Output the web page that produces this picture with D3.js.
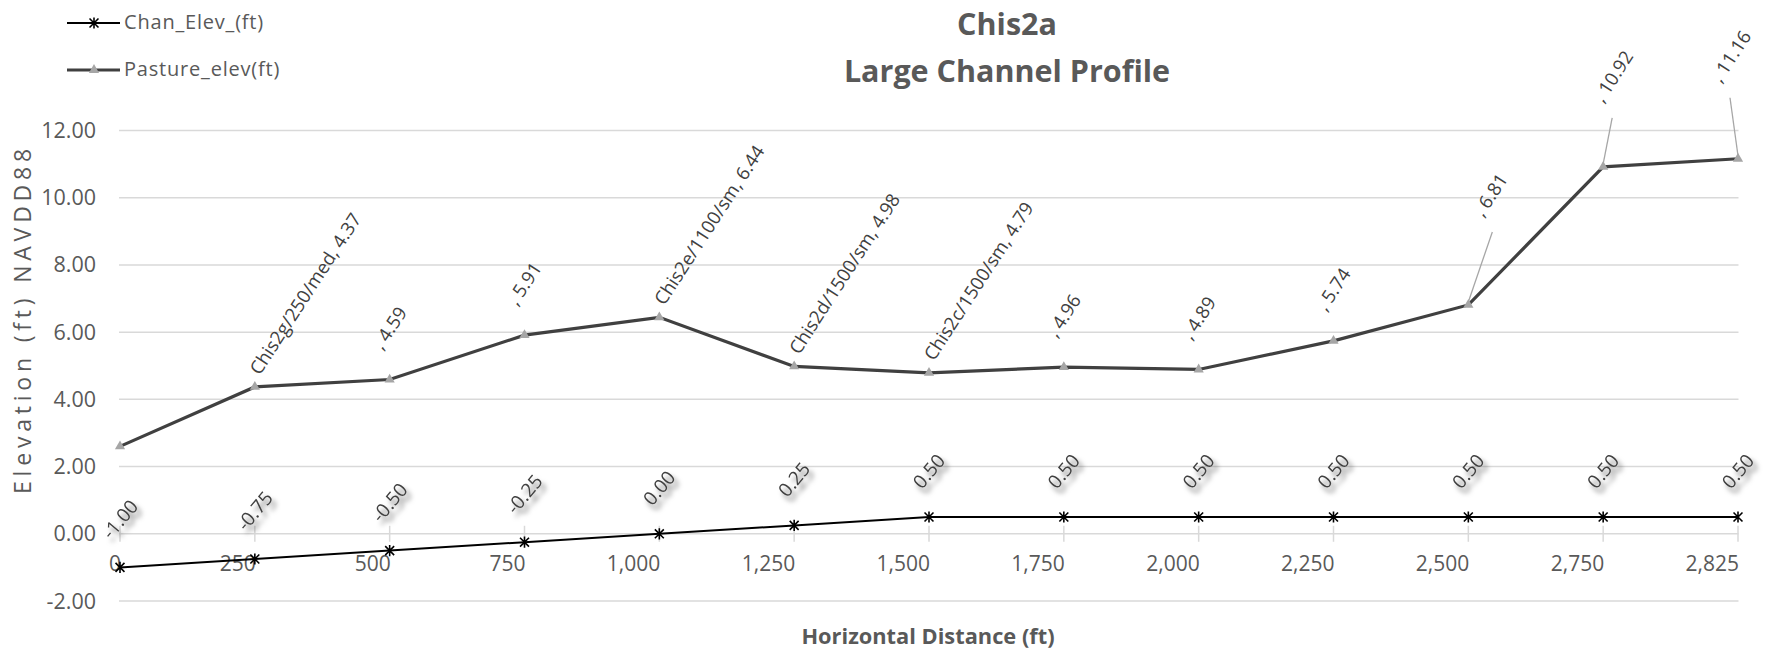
<!DOCTYPE html>
<html>
<head>
<meta charset="utf-8">
<script src="https://cdn.jsdelivr.net/npm/d3@7"></script>
<style>
  html, body { margin: 0; padding: 0; background: #fff; }
  svg { display: block; font-family: "Open Sans", Lato, sans-serif; }
</style>
</head>
<body>
<svg id="chart" width="1775" height="652"></svg>
<script>
// Profile data: horizontal distance (ft) and elevations (ft, NAVD88)
const distances   = [0, 250, 500, 750, 1000, 1250, 1500, 1750, 2000, 2250, 2500, 2750, 2825];
const chanElev    = [-1.00, -0.75, -0.50, -0.25, 0.00, 0.25, 0.50, 0.50, 0.50, 0.50, 0.50, 0.50, 0.50];
const pastureElev = [2.60, 4.37, 4.59, 5.91, 6.44, 4.98, 4.79, 4.96, 4.89, 5.74, 6.81, 10.92, 11.16];
// station names shown in the pasture labels (null = point not labelled)
const pastureNames = [null, "Chis2g/250/med", "", "", "Chis2e/1100/sm", "Chis2d/1500/sm",
                      "Chis2c/1500/sm", "", "", "", "", "", ""];
const yTicks = [-2, 0, 2, 4, 6, 8, 10, 12];
const seriesNames = ["Chan_Elev_(ft)", "Pasture_elev(ft)"];
const titleLines = ["Chis2a", "Large Channel Profile"];

// labels dragged away from their points (offset of label start, drawn with a leader)
const draggedLabels = new Map([[10, [15, -87]], [11, [0, -63]], [12, [-17, -75]]]);

const textGray = "#595959", labelGray = "#404040";
const svg = d3.select("#chart");

const loc = d3.formatLocale({ decimal: ".", thousands: ",", grouping: [3], currency: ["", ""], minus: "-" });
const fmt2 = loc.format(".2f");
const fmtComma = loc.format(",");

const x = d3.scalePoint().domain(d3.range(distances.length)).range([120, 1738]);
const y = d3.scaleLinear().domain([-2, 12]).range([601, 130.5]);

// shadow for the channel labels
const defs = svg.append("defs");
const f = defs.append("filter").attr("id", "lblShadow")
  .attr("x", "-60%").attr("y", "-60%").attr("width", "220%").attr("height", "220%");
f.append("feGaussianBlur").attr("in", "SourceAlpha").attr("stdDeviation", 2.8).attr("result", "blur");
f.append("feOffset").attr("in", "blur").attr("dx", 4).attr("dy", 5).attr("result", "off");
f.append("feFlood").attr("flood-color", "#000").attr("flood-opacity", 0.6);
f.append("feComposite").attr("in2", "off").attr("operator", "in").attr("result", "sh");
const fm = f.append("feMerge");
fm.append("feMergeNode").attr("in", "sh");
fm.append("feMergeNode").attr("in", "SourceGraphic");

// gridlines
const [x0, x1] = x.range();
svg.append("g").selectAll("line").data(yTicks).join("line")
  .attr("x1", x0 - 1).attr("x2", x1 + 0.5)
  .attr("y1", d => y(d)).attr("y2", d => y(d))
  .attr("stroke", "#d9d9d9").attr("stroke-width", 1.5);

// y axis labels
svg.append("g").selectAll("text").data(yTicks).join("text")
  .attr("x", 96).attr("y", d => y(d)).attr("dy", "0.35em")
  .attr("text-anchor", "end").attr("font-size", 21.5).attr("fill", textGray)
  .text(d => fmt2(d));

// category ticks on the zero line and distance labels
const xAxis = svg.append("g");
xAxis.selectAll("line").data(distances).join("line")
  .attr("x1", (d, i) => x(i)).attr("x2", (d, i) => x(i))
  .attr("y1", y(0) - 8).attr("y2", y(0) + 8)
  .attr("stroke", "#d9d9d9").attr("stroke-width", 1.5);
xAxis.selectAll("text").data(distances).join("text")
  .attr("x", (d, i) => x(i) + 1).attr("y", 571)
  .attr("text-anchor", "end").attr("font-size", 21).attr("fill", textGray)
  .text(d => fmtComma(d));

// series lines
const line = v => d3.line().x((d, i) => x(i)).y(d => y(d))(v);
svg.append("path").attr("d", line(chanElev))
  .attr("fill", "none").attr("stroke", "#000").attr("stroke-width", 2);
svg.append("path").attr("d", line(pastureElev))
  .attr("fill", "none").attr("stroke", labelGray).attr("stroke-width", 3.2);

// markers
const starType = {
  draw(ctx, size) {
    const r = Math.sqrt(size) / 2;
    ctx.moveTo(-r, -r); ctx.lineTo(r, r);
    ctx.moveTo(-r, r); ctx.lineTo(r, -r);
    ctx.moveTo(0, -r * 1.25); ctx.lineTo(0, r * 1.25);
  }
};
const starPath = d3.symbol().type(starType).size(80)();
const triPath = d3.symbol().type(d3.symbolTriangle).size(45)();

svg.append("g").selectAll("path").data(pastureElev).join("path")
  .attr("d", triPath).attr("transform", (d, i) => `translate(${x(i)},${y(d)})`)
  .attr("fill", "#a6a6a6");
svg.append("g").selectAll("path").data(chanElev).join("path")
  .attr("d", starPath).attr("transform", (d, i) => `translate(${x(i)},${y(d)})`)
  .attr("fill", "none").attr("stroke", "#000").attr("stroke-width", 1.6);

// channel labels: rotated, centred above their points, with shadow
const chanAngle = 50, chanGap = 24, chanFont = 19;
const chanLbl = svg.append("g");
chanElev.forEach((v, i) => {
  const g = chanLbl.append("g").attr("filter", "url(#lblShadow)");
  const t = g.append("text").attr("font-size", chanFont).attr("fill", labelGray)
    .attr("text-anchor", "middle").attr("dy", "0.35em").text(fmt2(v));
  const tw = t.node().getComputedTextLength();
  const a = chanAngle * Math.PI / 180;
  const bh = tw * Math.sin(a) + chanFont * 1.2 * Math.cos(a);
  t.attr("transform", `translate(${x(i)},${y(v) - chanGap - bh / 2}) rotate(${-chanAngle})`);
});

// pasture labels
const pAngle = 57, pGap = 26, pFont = 18.5;
const pLbl = svg.append("g");
pastureElev.forEach((v, i) => {
  const name = pastureNames[i];
  if (name === null) return;
  const txt = `${name}, ${fmt2(v)}`;
  const t = pLbl.append("text").attr("font-size", pFont).attr("fill", labelGray).text(txt);
  const px = x(i), py = y(v);
  if (draggedLabels.has(i)) {
    const [ox, oy] = draggedLabels.get(i);
    t.attr("transform", `translate(${px + ox},${py + oy}) rotate(${-pAngle})`);
    pLbl.append("line")
      .attr("x1", px).attr("y1", py - 3)
      .attr("x2", px + ox + 9).attr("y2", py + oy + 14)
      .attr("stroke", "#a6a6a6").attr("stroke-width", 1.3);
  } else if (name) {
    t.attr("transform", `translate(${px + 5},${py - 11}) rotate(${-pAngle})`);
  } else {
    t.attr("text-anchor", "middle").attr("dy", "0.35em");
    const tw = t.node().getComputedTextLength();
    const a = pAngle * Math.PI / 180;
    const bh = tw * Math.sin(a) + pFont * 1.2 * Math.cos(a);
    t.attr("transform", `translate(${px},${py - pGap - bh / 2}) rotate(${-pAngle})`);
  }
});

// title
svg.append("g").selectAll("text").data(titleLines).join("text")
  .attr("x", 1007).attr("y", (d, i) => 24 + i * 47).attr("dy", "0.35em")
  .attr("text-anchor", "middle").attr("font-size", 30.5).attr("font-weight", "bold")
  .attr("fill", textGray).text(d => d);

// axis titles
svg.append("text").attr("x", 928).attr("y", 636).attr("dy", "0.35em")
  .attr("text-anchor", "middle").attr("font-size", 21.8).attr("font-weight", "bold")
  .attr("fill", textGray).text("Horizontal Distance (ft)");
svg.append("text").attr("transform", "translate(23,319) rotate(-90)").attr("dy", "0.35em")
  .attr("text-anchor", "middle").attr("font-size", 23).attr("letter-spacing", 4.8)
  .attr("fill", textGray).text("Elevation (ft) NAVDD88");

// legend
const legend = svg.append("g");
const legRows = [
  { name: seriesNames[0], y: 23, stroke: "#000", sw: 2, marker: starPath, mfill: "none", mstroke: "#000" },
  { name: seriesNames[1], y: 70, stroke: labelGray, sw: 3.2, marker: triPath, mfill: "#a6a6a6", mstroke: "none" }
];
legRows.forEach(r => {
  legend.append("line").attr("x1", 67).attr("x2", 120).attr("y1", r.y).attr("y2", r.y)
    .attr("stroke", r.stroke).attr("stroke-width", r.sw);
  legend.append("path").attr("d", r.marker).attr("transform", `translate(94,${r.y})`)
    .attr("fill", r.mfill).attr("stroke", r.mstroke).attr("stroke-width", 1.6);
  legend.append("text").attr("x", 124).attr("y", r.y - 1).attr("dy", "0.35em")
    .attr("font-size", 20).attr("letter-spacing", 0.8).attr("fill", textGray).text(r.name);
});
</script>
</body>
</html>
